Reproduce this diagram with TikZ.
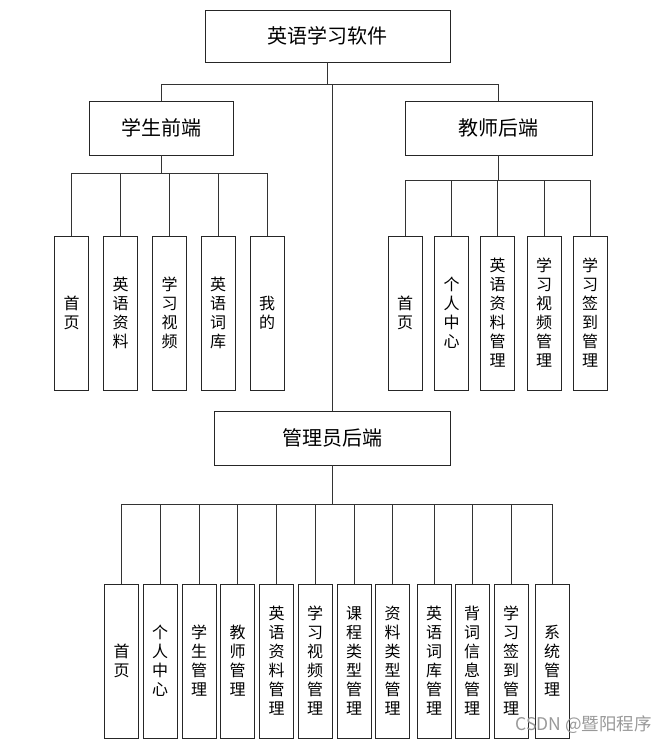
\documentclass[tikz,border=0pt]{standalone}
\usepackage{fontspec}
\newfontfamily\cjk{Noto Sans CJK SC}
\begin{document}
\begin{tikzpicture}[x=1pt,y=-1pt,
  box/.style={draw=black!85, line width=0.9pt, inner sep=0pt, fill=white},
  big/.style={box, font=\cjk\fontsize{20}{24}\selectfont},
  leaf/.style={box, minimum width=34pt, minimum height=154pt, align=center,
     font=\cjk\fontsize{16}{19}\selectfont},
  link/.style={draw=black!80, line width=0.8pt}]
\useasboundingbox (0,0) rectangle (667,745);
% level 0/1
\node[big, minimum width=245pt, minimum height=52pt] (root) at (327.5,36) {英语学习软件};
\node[big, minimum width=144pt, minimum height=54pt] (stu) at (161,128) {学生前端};
\node[big, minimum width=187pt, minimum height=54pt] (tea) at (498.5,128) {教师后端};
\node[big, minimum width=236pt, minimum height=54pt] (adm) at (332,438) {管理员后端};
% student leaves
\node[leaf] (s1) at (71.5,313) {首\\页};
\node[leaf] (s2) at (120.5,313) {英\\语\\资\\料};
\node[leaf] (s3) at (169.5,313) {学\\习\\视\\频};
\node[leaf] (s4) at (218,313) {英\\语\\词\\库};
\node[leaf] (s5) at (267,313) {我\\的};
% teacher leaves
\node[leaf] (t1) at (405,313) {首\\页};
\node[leaf] (t2) at (451.5,313) {个\\人\\中\\心};
\node[leaf] (t3) at (497.5,313) {英\\语\\资\\料\\管\\理};
\node[leaf] (t4) at (544,313) {学\\习\\视\\频\\管\\理};
\node[leaf] (t5) at (590,313) {学\\习\\签\\到\\管\\理};
% admin leaves
\node[leaf] (a1) at (121.5,661) {首\\页};
\node[leaf] (a2) at (160,661) {个\\人\\中\\心};
\node[leaf] (a3) at (199,661) {学\\生\\管\\理};
\node[leaf] (a4) at (237.5,661) {教\\师\\管\\理};
\node[leaf] (a5) at (276.5,661) {英\\语\\资\\料\\管\\理};
\node[leaf] (a6) at (315,661) {学\\习\\视\\频\\管\\理};
\node[leaf] (a7) at (354,661) {课\\程\\类\\型\\管\\理};
\node[leaf] (a8) at (392.5,661) {资\\料\\类\\型\\管\\理};
\node[leaf] (a9) at (434,661) {英\\语\\词\\库\\管\\理};
\node[leaf] (a10) at (472,661) {背\\词\\信\\息\\管\\理};
\node[leaf] (a11) at (511,661) {学\\习\\签\\到\\管\\理};
\node[leaf] (a12) at (552,661) {系\\统\\管\\理};
% bar coordinates
\coordinate (rb) at (0,84);
\coordinate (sb) at (0,173);
\coordinate (tb) at (0,180);
\coordinate (ab) at (0,504);
% root connectors
\draw[link] (root.south) -- (rb -| root.south);
\draw[link] (rb -| stu.north) -- (rb -| tea.north);
\draw[link] (rb -| stu.north) -- (stu.north);
\draw[link] (rb -| tea.north) -- (tea.north);
\draw[link] (rb -| adm.north) -- (adm.north);
% student connectors
\draw[link] (stu.south) -- (sb -| stu.south);
\draw[link] (sb -| s1.north) -- (sb -| s5.north);
\foreach \n in {s1,s2,s3,s4,s5}{\draw[link] (sb -| \n.north) -- (\n.north);}
% teacher connectors
\draw[link] (tea.south) -- (tb -| tea.south);
\draw[link] (tb -| t1.north) -- (tb -| t5.north);
\foreach \n in {t1,t2,t3,t4,t5}{\draw[link] (tb -| \n.north) -- (\n.north);}
% admin connectors
\draw[link] (adm.south) -- (ab -| adm.south);
\draw[link] (ab -| a1.north) -- (ab -| a12.north);
\foreach \n in {a1,a2,a3,a4,a5,a6,a7,a8,a9,a10,a11,a12}{\draw[link] (ab -| \n.north) -- (\n.north);}
% watermark
\node[anchor=east, inner sep=0pt, text=black!40, font=\cjk\fontsize{17.5}{20}\selectfont] (wm) at (652,725) {CSDN @暨阳程序};
\end{tikzpicture}
\end{document}
